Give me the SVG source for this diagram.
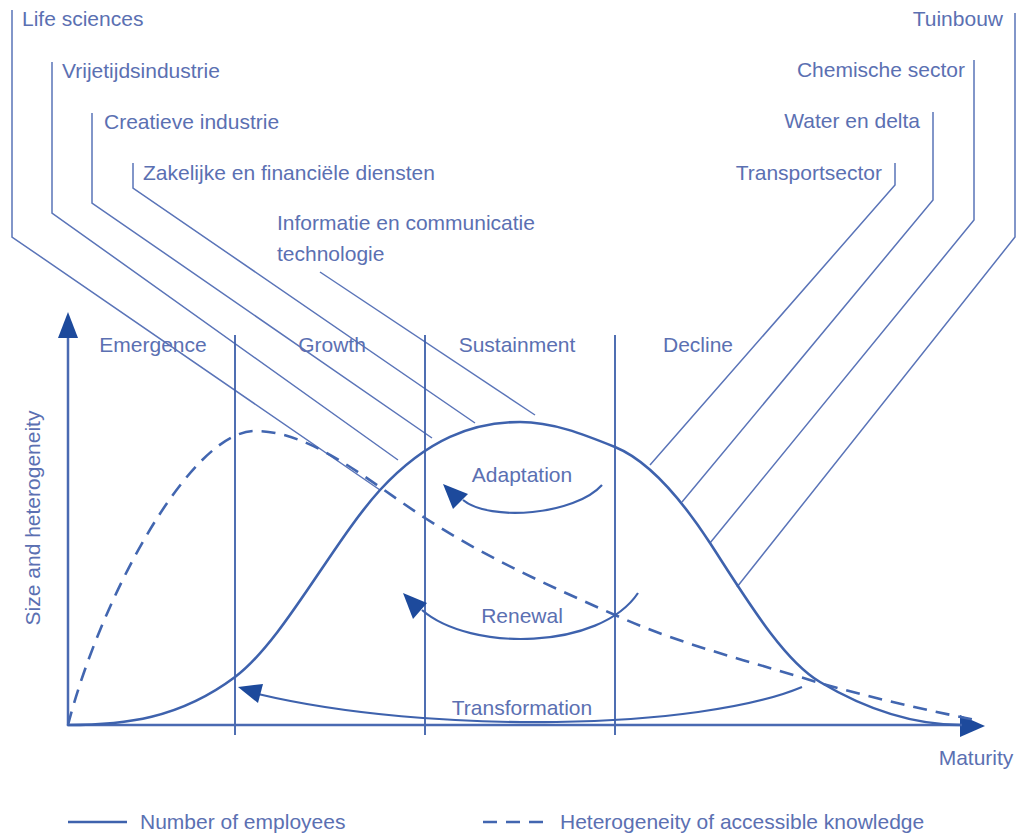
<svg xmlns="http://www.w3.org/2000/svg" width="1018" height="833" viewBox="0 0 1018 833">
<style>
  text { font-family: "Liberation Sans", Arial, sans-serif; font-size: 21px; fill: #5b70b2; }
  .lead { fill: none; stroke: #5a74b8; stroke-width: 1.5; }
  .div { fill: none; stroke: #3c5faa; stroke-width: 1.8; }
  .axis { fill: none; stroke: #4a6ab2; stroke-width: 2.5; }
  .curve { fill: none; stroke: #3e62ad; stroke-width: 2.6; }
  .dash { fill: none; stroke: #4266b0; stroke-width: 2.6; stroke-dasharray: 14 9; }
  .arc { fill: none; stroke: #3e62ad; stroke-width: 2.2; }
  .head { fill: #1d4a9c; stroke: none; }
</style>
<rect width="1018" height="833" fill="#ffffff"/>

<g id="labels-left">
  <g id="life-sciences"><text x="22" y="26">Life sciences</text></g>
  <g id="vrijetijdsindustrie"><text x="62" y="78">Vrijetijdsindustrie</text></g>
  <g id="creatieve-industrie"><text x="104" y="129">Creatieve industrie</text></g>
  <g id="zakelijke"><text x="143" y="180">Zakelijke en financiële diensten</text></g>
  <g id="ict"><text x="277" y="230">Informatie en communicatie</text><text x="277" y="261">technologie</text></g>
</g>
<g id="labels-right">
  <g id="tuinbouw"><text x="1003" y="26" text-anchor="end">Tuinbouw</text></g>
  <g id="chemische"><text x="965" y="77" text-anchor="end">Chemische sector</text></g>
  <g id="water"><text x="920" y="128" text-anchor="end">Water en delta</text></g>
  <g id="transport"><text x="882" y="180" text-anchor="end">Transportsector</text></g>
</g>

<g id="connectors">
  <polyline class="lead" points="12,10 12,237 380,490"/>
  <polyline class="lead" points="52,62 52,213 398,460"/>
  <polyline class="lead" points="92,113 92,203 432,438"/>
  <polyline class="lead" points="133,163 133,188 475,423"/>
  <polyline class="lead" points="320,272 535,415"/>
  <polyline class="lead" points="1015,13 1015,237 737,587"/>
  <polyline class="lead" points="974,60 974,220 710,543"/>
  <polyline class="lead" points="933,112 933,200 682,502"/>
  <polyline class="lead" points="895,163 895,185 650,465"/>
</g>

<g id="phases">
  <line class="div" x1="235" y1="335" x2="235" y2="735"/>
  <line class="div" x1="425" y1="335" x2="425" y2="735"/>
  <line class="div" x1="615" y1="335" x2="615" y2="735"/>
  <text x="153" y="352" text-anchor="middle">Emergence</text>
  <text x="332" y="352" text-anchor="middle">Growth</text>
  <text x="517" y="352" text-anchor="middle">Sustainment</text>
  <text x="698" y="352" text-anchor="middle">Decline</text>
</g>

<g id="axes">
  <line class="axis" x1="68" y1="330" x2="68" y2="726"/>
  <line class="axis" x1="67" y1="725" x2="965" y2="725"/>
  <polygon class="head" points="68,312 58,338 78,338"/>
  <polygon class="head" points="985,726 960,715 960,737"/>
  <text x="40" y="518" text-anchor="middle" transform="rotate(-90 40 518)">Size and heterogeneity</text>
  <text x="976" y="765" text-anchor="middle">Maturity</text>
</g>

<g id="employees-curve">
  <path class="curve" d="M68,725 C124,725 179,719 235,677 C283,641 332,543 380,490 C427,439 473,422 520,422 C552,422 583,434 615,447 C647,460 678,494 710,543 C747,600 783,660 820,682 C867,710 913,725 962,725"/>
</g>

<g id="knowledge-curve">
  <path class="dash" d="M68,725 C100,600 190,431 255,431 C312,431 368,481 425,518 C488,559 552,587 615,615 C677,643 738,658 800,677 C858,695 917,708 975,720"/>
</g>

<g id="adaptation">
  <path class="arc" d="M602,485 C575,515 490,522 463,500"/>
  <polygon class="head" points="443,484 453,509 468,494"/>
  <text x="522" y="482" text-anchor="middle">Adaptation</text>
</g>
<g id="renewal">
  <path class="arc" d="M638,593 C600,650 470,652 422,610"/>
  <polygon class="head" points="403,593 413,619 427,603"/>
  <text x="522" y="623" text-anchor="middle">Renewal</text>
</g>
<g id="transformation">
  <path class="arc" d="M802,687 C700,730 430,735 258,694"/>
  <polygon class="head" points="238,687 263,684 258,703"/>
  <text x="522" y="715" text-anchor="middle">Transformation</text>
</g>

<g id="legend">
  <line class="curve" x1="68" y1="822" x2="127" y2="822"/>
  <text x="140" y="829">Number of employees</text>
  <line class="dash" x1="483" y1="822" x2="548" y2="822" stroke-dasharray="12 8"/>
  <text x="560" y="829">Heterogeneity of accessible knowledge</text>
</g>
</svg>
